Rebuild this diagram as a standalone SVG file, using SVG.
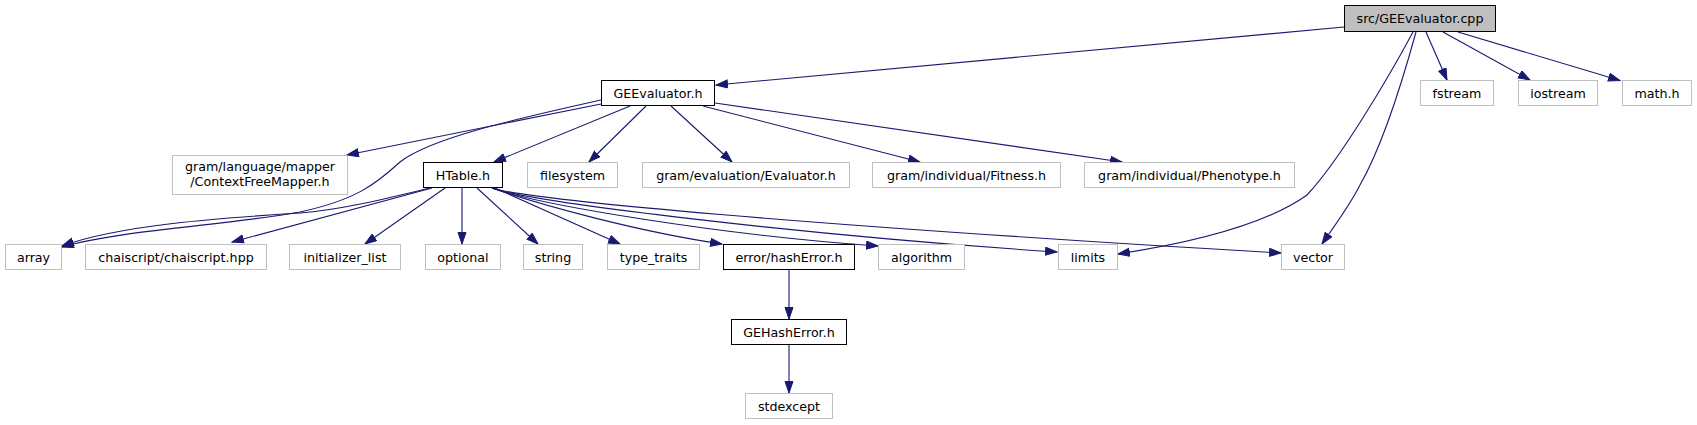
<svg xmlns="http://www.w3.org/2000/svg" width="1697" height="425" viewBox="0 0 1697 425">
<defs>
<style>
.n rect{fill:#fff;stroke:#000;stroke-width:1}
.n.root rect{fill:#bfbfbf;stroke:#000}
.n.ext rect{fill:#fff;stroke:#bfbfbf}
.n text{font-family:"DejaVu Sans",sans-serif;font-size:12.67px;fill:#000;text-anchor:middle}
#edges path{fill:none;stroke:#191970;stroke-width:1.1;marker-end:url(#arr)}
</style>
<marker id="arr" markerUnits="userSpaceOnUse" markerWidth="14" markerHeight="11" refX="12" refY="4.5" orient="auto">
<path d="M0.5,0.5 L12,4.5 L0.5,8.5 z" fill="#191970" stroke="#191970" stroke-width="1"/>
</marker>
</defs>
<rect width="1697" height="425" fill="#fff"/>
<g id="edges">
<path d="M1344,27 L716,85"/>
<path d="M1426,32 L1447,80"/>
<path d="M1443,32 L1530,80"/>
<path d="M1458,32 L1620,80.5"/>
<path d="M1413,32 C1390,75 1340,160 1307,195 C1265,225 1190,243 1118,254"/>
<path d="M1416,32 C1400,90 1380,150 1360,185 C1350,205 1335,225 1322,244"/>
<path d="M601,104 L347,155"/>
<path d="M601,100 C520,118 430,138 400,162 C375,185 355,200 300,212 C230,225 120,230 62,247"/>
<path d="M630,106 L494,162"/>
<path d="M646,106 L589,162"/>
<path d="M671,106 L732,162"/>
<path d="M703,106 L920,162"/>
<path d="M715,103 L1122,162"/>
<path d="M430,188 C380,200 340,210 300,213 C220,218 120,225 62,246"/>
<path d="M432,188 L232,242"/>
<path d="M445,188 L365,244"/>
<path d="M462,188 L462,244"/>
<path d="M477,188 L538,244"/>
<path d="M495,188 L620,244"/>
<path d="M492,188 C540,205 640,232 722,244"/>
<path d="M492,188 C540,205 720,235 878,246"/>
<path d="M492,188 C530,202 800,235 1057,252"/>
<path d="M492,188 C530,200 800,225 1281,253"/>
<path d="M789,270 L789,319"/>
<path d="M789,345 L789,393"/>
</g>
<g id="node-root" class="n root"><rect x="1344.5" y="5.5" width="151" height="26"/><text x="1420" y="23">src/GEEvaluator.cpp</text></g>
<g id="node-geevaluator" class="n"><rect x="601.5" y="80.5" width="113" height="25"/><text x="658" y="98">GEEvaluator.h</text></g>
<g id="node-fstream" class="n ext"><rect x="1420.5" y="80.5" width="73" height="25"/><text x="1457" y="98">fstream</text></g>
<g id="node-iostream" class="n ext"><rect x="1518.5" y="80.5" width="79" height="25"/><text x="1558" y="98">iostream</text></g>
<g id="node-math" class="n ext"><rect x="1622.5" y="80.5" width="69" height="25"/><text x="1657" y="98">math.h</text></g>
<g id="node-cfm" class="n ext"><rect x="172.5" y="155.5" width="175" height="39"/><text x="260" y="171">gram/language/mapper</text><text x="260" y="186">/ContextFreeMapper.h</text></g>
<g id="node-htable" class="n"><rect x="423.5" y="162.5" width="79" height="25"/><text x="463" y="180">HTable.h</text></g>
<g id="node-filesystem" class="n ext"><rect x="527.5" y="162.5" width="90" height="25"/><text x="572.5" y="180">filesystem</text></g>
<g id="node-evaluator" class="n ext"><rect x="642.5" y="162.5" width="207" height="25"/><text x="746" y="180">gram/evaluation/Evaluator.h</text></g>
<g id="node-fitness" class="n ext"><rect x="872.5" y="162.5" width="188" height="25"/><text x="966.5" y="180">gram/individual/Fitness.h</text></g>
<g id="node-phenotype" class="n ext"><rect x="1084.5" y="162.5" width="210" height="25"/><text x="1189.5" y="180">gram/individual/Phenotype.h</text></g>
<g id="node-array" class="n ext"><rect x="5.5" y="244.5" width="56" height="25"/><text x="33.5" y="262">array</text></g>
<g id="node-chaiscript" class="n ext"><rect x="85.5" y="244.5" width="181" height="25"/><text x="176" y="262">chaiscript/chaiscript.hpp</text></g>
<g id="node-initlist" class="n ext"><rect x="289.5" y="244.5" width="111" height="25"/><text x="345" y="262">initializer_list</text></g>
<g id="node-optional" class="n ext"><rect x="425.5" y="244.5" width="75" height="25"/><text x="463" y="262">optional</text></g>
<g id="node-string" class="n ext"><rect x="523.5" y="244.5" width="59" height="25"/><text x="553" y="262">string</text></g>
<g id="node-typetraits" class="n ext"><rect x="607.5" y="244.5" width="92" height="25"/><text x="653.5" y="262">type_traits</text></g>
<g id="node-hasherror" class="n"><rect x="723.5" y="244.5" width="131" height="25"/><text x="789" y="262">error/hashError.h</text></g>
<g id="node-algorithm" class="n ext"><rect x="878.5" y="244.5" width="86" height="25"/><text x="921.5" y="262">algorithm</text></g>
<g id="node-limits" class="n ext"><rect x="1058.5" y="244.5" width="59" height="25"/><text x="1088" y="262">limits</text></g>
<g id="node-vector" class="n ext"><rect x="1281.5" y="244.5" width="63" height="25"/><text x="1313" y="262">vector</text></g>
<g id="node-gehasherror" class="n"><rect x="731.5" y="319.5" width="115" height="25"/><text x="789" y="337">GEHashError.h</text></g>
<g id="node-stdexcept" class="n ext"><rect x="745.5" y="393.5" width="87" height="25"/><text x="789" y="411">stdexcept</text></g>
</svg>
